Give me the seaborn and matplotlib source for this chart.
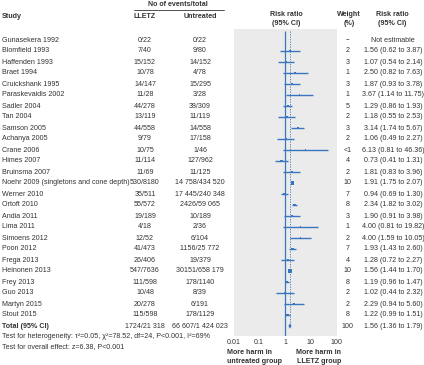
import numpy as np
import pandas as pd
import seaborn as sns
import matplotlib.pyplot as plt

# Forest plot data: LLETZ vs untreated
studies = ["Gunasekera 1992", "Blomfield 1993", "Haffenden 1993", "Braet 1994",
           "Cruickshank 1995", "Paraskevaidis 2002", "Sadler 2004", "Tan 2004",
           "Samson 2005", "Achanya 2005", "Crane 2006", "Himes 2007", "Bruinsma 2007",
           "Noehr 2009 (singletons and cone depth)", "Werner 2010", "Ortoft 2010",
           "Andia 2011", "Lima 2011", "Simoens 2012", "Poon 2012", "Frega 2013",
           "Heinonen 2013", "Frey 2013", "Guo 2013", "Martyn 2015", "Stout 2015"]
lletz = ["0/22", "7/40", "15/152", "10/78", "14/147", "11/28", "44/278", "13/119",
         "44/558", "9/79", "10/75", "11/114", "11/69", "530/8180", "35/511", "55/572",
         "19/189", "4/18", "12/52", "41/473", "26/406", "547/7636", "111/598", "10/48",
         "20/278", "115/598"]
untreated = ["0/22", "9/80", "14/152", "4/78", "15/295", "3/28", "38/309", "11/119",
             "14/558", "17/158", "1/46", "127/962", "11/125", "14 758/434 520",
             "17 445/240 348", "2426/59 065", "10/189", "2/36", "6/104", "1156/25 772",
             "19/379", "30151/658 179", "178/1140", "8/39", "6/191", "178/1129"]
weight_lbl = ["--", "2", "3", "1", "3", "1", "5", "2", "3", "2", "<1", "4", "2", "10",
              "7", "8", "3", "1", "2", "7", "4", "10", "8", "2", "2", "8"]
weight = [np.nan, 2, 3, 1, 3, 1, 5, 2, 3, 2, 0.5, 4, 2, 10, 7, 8, 3, 1, 2, 7, 4, 10,
          8, 2, 2, 8]
rr = [np.nan, 1.56, 1.07, 2.50, 1.87, 3.67, 1.29, 1.18, 3.14, 1.06, 6.13, 0.73, 1.81,
      1.91, 0.94, 2.34, 1.90, 4.00, 4.00, 1.93, 1.28, 1.56, 1.19, 1.02, 2.29, 1.22]
lo = [np.nan, 0.62, 0.54, 0.82, 0.93, 1.14, 0.86, 0.55, 1.74, 0.49, 0.81, 0.41, 0.83,
      1.75, 0.69, 1.82, 0.91, 0.81, 1.59, 1.43, 0.72, 1.44, 0.96, 0.44, 0.94, 0.99]
hi = [np.nan, 3.87, 2.14, 7.63, 3.78, 11.75, 1.93, 2.53, 5.67, 2.27, 46.36, 1.31, 3.96,
      2.07, 1.30, 3.02, 3.98, 19.82, 10.05, 2.60, 2.27, 1.70, 1.47, 2.32, 5.60, 1.51]

total_lletz = "1724/21 318"
total_untreated = "66 607/1 424 023"
total_rr, total_lo, total_hi = 1.56, 1.36, 1.79

df = pd.DataFrame({"study": studies, "weight": weight, "rr": rr, "lo": lo, "hi": hi})
df["row"] = np.arange(len(df))
total_row = len(df)

sns.set_style("white")
plt.rcParams["font.family"] = ["Liberation Sans", "DejaVu Sans"]

W, H = 424, 365
fig = plt.figure(figsize=(W / 100, H / 100), dpi=100)
blue = "#3a76c0"
txt = "#333333"
fs = 5.1

# pixel-coordinate canvas for the table text
bg = fig.add_axes([0, 0, 1, 1])
bg.set_xlim(0, W)
bg.set_ylim(H, 0)
bg.axis("off")

y0, dy = 40, 11.0
def row_y(i):
    return y0 + dy * i

def put(x, y, s, ha="center", bold=False):
    bg.text(x, y, s, ha=ha, va="center", fontsize=fs, color=txt,
            weight="bold" if bold else "normal")

# headers
put(178, 4.5, "No of events/total", bold=True)
bg.plot([134, 224], [9.5, 9.5], color=txt, lw=0.6)
put(2, 16, "Study", ha="left", bold=True)
put(145, 16, "LLETZ", bold=True)
put(200, 16, "Untreated", bold=True)
for xc, l1, l2 in [(286, "Risk ratio", "(95% CI)"), (349, "Weight", "(%)"),
                   (392, "Risk ratio", "(95% CI)")]:
    put(xc, 15, l1, bold=True)
    put(xc, 23.5, l2, bold=True)

# study rows
for i in range(len(df)):
    y = row_y(i)
    put(2, y, studies[i], ha="left")
    put(145, y, lletz[i])
    put(200, y, untreated[i])
    put(348, y, weight_lbl[i])
    if np.isnan(rr[i]):
        lab = "Not estimable"
    else:
        lab = "{:.2f} ({:.2f} to {:.2f})".format(rr[i], lo[i], hi[i])
    put(393, y, lab)

yt = row_y(total_row)
put(2, yt, "Total (95% CI)", ha="left", bold=True)
put(145, yt, total_lletz)
put(200, yt, total_untreated)
put(348, yt, "100")
put(393, yt, "{:.2f} ({:.2f} to {:.2f})".format(total_rr, total_lo, total_hi))
put(2, 337, "Test for heterogeneity: \u03c4\u00b2=0.05, \u03c7\u00b2=78.52, df=24, P<0.001, I\u00b2=69%", ha="left")
put(2, 347, "Test for overall effect: z=6.38, P<0.001", ha="left")
put(227, 353, "More harm in", ha="left", bold=True)
put(227, 361.5, "untreated group", ha="left", bold=True)
put(341, 353, "More harm in", ha="right", bold=True)
put(341, 361.5, "LLETZ group", ha="right", bold=True)

# forest panel
top, bot, left, right = 29, 336, 233.5, 336.5
ax = fig.add_axes([left / W, 1 - bot / H, (right - left) / W, (bot - top) / H])
ax.set_facecolor("#ebebeb")
ax.set_xscale("log")
ax.set_xlim(0.01, 100)
ymin, ymax = (bot - y0) / dy, (top - y0) / dy
ax.set_ylim(ymin, ymax)

ax.vlines(1, ymax + 0.2, ymin, color=blue, lw=0.9)
ax.vlines(total_rr, ymax + 0.2, total_row, color=blue, lw=0.6, ls=(0, (1.5, 1.5)))
est = df.dropna()
for _, r in est.iterrows():
    ax.plot([r["lo"], r["hi"]], [r["row"], r["row"]], color=blue, lw=1.0,
            solid_capstyle="butt")
sns.scatterplot(data=est, x="rr", y="row", size="weight", sizes=(1.2, 5.5),
                marker="s", color=blue, edgecolor="none", legend=False, ax=ax)
dh = 0.25
ax.fill([total_lo, total_rr, total_hi, total_rr],
        [total_row, total_row - dh, total_row, total_row + dh], color=blue, lw=0)

ax.set_xticks([0.01, 0.1, 1, 10, 100])
ax.set_xticklabels(["0.01", "0.1", "1", "10", "100"])
ax.minorticks_off()
ax.tick_params(axis="x", length=0, pad=2.2, labelsize=fs, colors=txt)
ax.set_yticks([])
ax.set_xlabel("")
ax.set_ylabel("")
for s in ax.spines.values():
    s.set_visible(False)

fig.savefig("out.png", dpi=100)
